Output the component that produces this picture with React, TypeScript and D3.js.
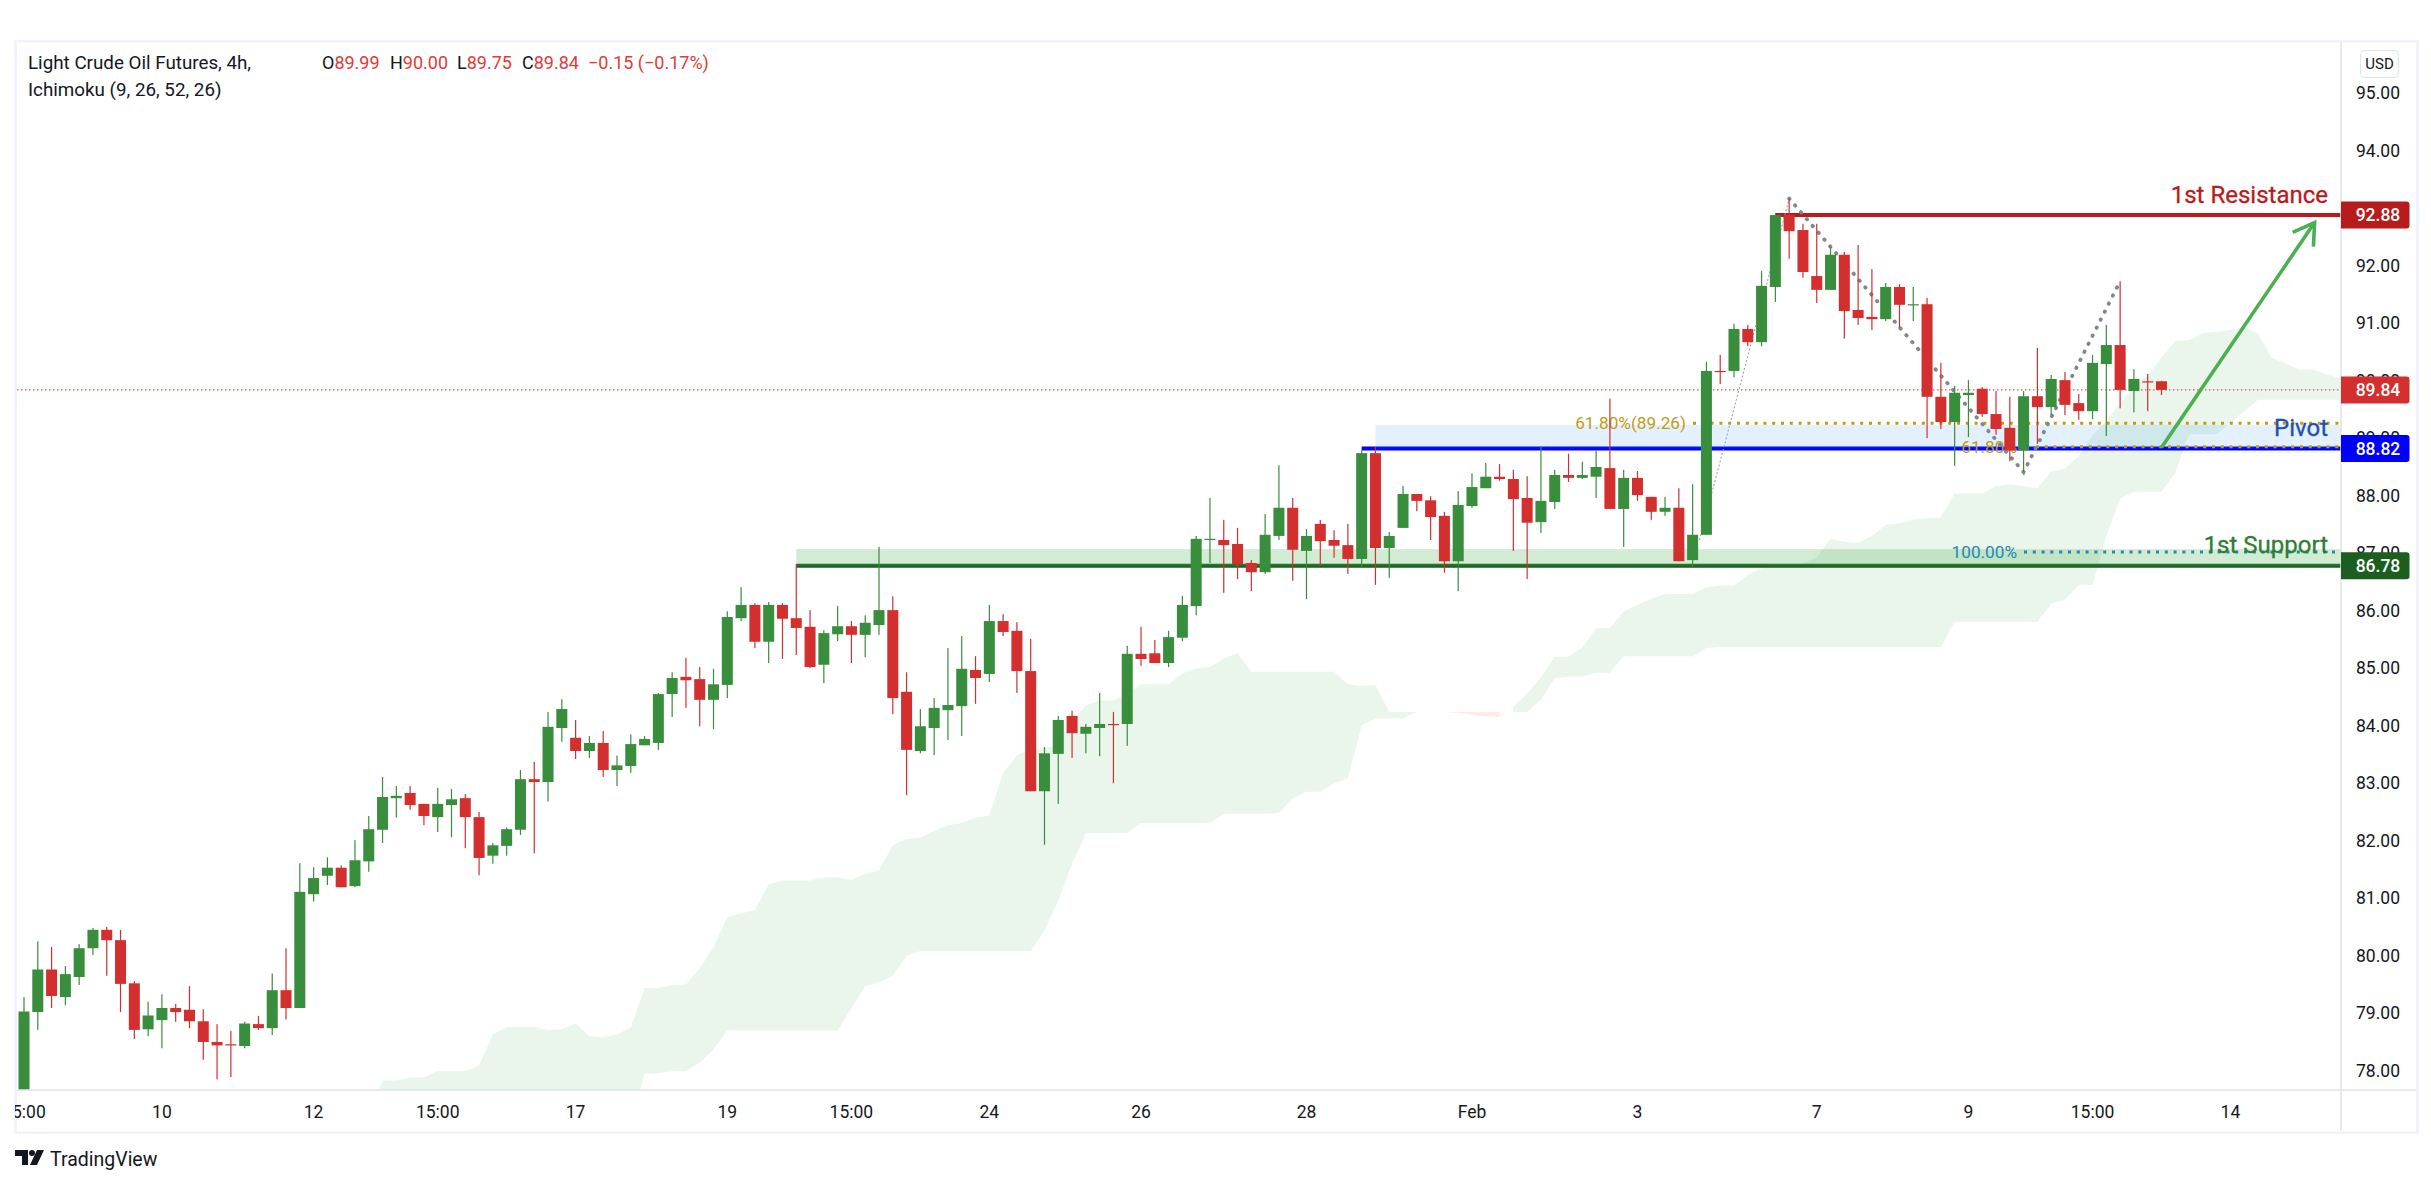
import * as React from 'react';
import * as d3 from 'd3';

const WIDTH = 2431;
const HEIGHT = 1185;
const FONT = 'Roboto, "Liberation Sans", sans-serif';

// candles, 4h bars
const opens = [
  77.0, 79.02, 79.76, 79.28, 79.63, 80.13, 80.45, 80.27, 79.52, 78.72, 78.88, 79.09, 79.06, 78.86, 78.5, 78.46, 78.43, 78.81, 78.74, 79.4,
  79.09, 81.07, 81.39, 81.53, 81.21, 81.64, 82.19, 82.74, 82.83, 82.64, 82.41, 82.62, 82.74, 82.41, 81.74, 81.91, 82.19, 83.07, 83.02, 83.96,
  83.79, 83.56, 83.7, 83.23, 83.3, 83.66, 83.7, 84.55, 84.85, 84.81, 84.45, 84.71, 85.87, 86.1, 85.46, 86.1, 85.87, 85.72, 85.06, 85.59,
  85.73, 85.58, 85.75, 86.01, 84.59, 83.56, 83.96, 84.27, 84.34, 84.97, 84.9, 85.82, 85.65, 84.95, 82.86, 83.51, 84.17, 83.86, 83.96, 84.03,
  84.03, 85.25, 85.26, 85.09, 85.53, 86.08, 87.24, 87.23, 87.16, 86.83, 86.67, 87.3, 87.79, 87.04, 87.51, 87.23, 87.14, 86.9, 88.74, 87.09,
  87.44, 88.03, 87.92, 87.65, 86.86, 87.82, 88.13, 88.33, 88.29, 87.96, 87.54, 87.89, 88.36, 88.31, 88.33, 88.48, 87.77, 88.31, 87.98, 87.72,
  87.79, 86.88, 87.32, 90.17, 90.17, 90.9, 90.67, 91.63, 92.88, 92.62, 91.82, 91.58, 92.19, 91.23, 91.11, 91.07, 91.63, 91.32, 91.33, 89.72,
  89.28, 89.75, 89.86, 89.42, 89.18, 88.79, 89.73, 89.54, 90.01, 89.61, 89.47, 90.29, 90.62, 89.82, 89.99, 89.99,
];
const highs = [
  79.28, 80.25, 80.15, 79.82, 80.2, 80.48, 80.5, 80.45, 79.56, 79.2, 79.33, 79.16, 79.47, 79.07, 78.81, 78.69, 78.85, 78.95, 79.69, 80.13,
  81.61, 81.54, 81.71, 81.57, 82.01, 82.43, 83.11, 82.95, 82.95, 82.64, 82.92, 82.9, 82.81, 82.5, 81.96, 82.23, 83.23, 83.37, 84.24, 84.46,
  84.1, 83.82, 83.91, 83.48, 83.85, 83.82, 84.57, 84.93, 85.18, 85.02, 84.99, 85.99, 86.41, 86.13, 86.15, 86.13, 86.81, 86.01, 85.66, 86.08,
  85.82, 85.92, 87.11, 86.25, 84.93, 84.29, 84.48, 85.35, 85.56, 85.21, 86.1, 85.94, 85.8, 85.51, 83.63, 84.17, 84.26, 84.03, 84.57, 84.24,
  85.39, 85.72, 85.49, 85.65, 86.26, 87.3, 87.96, 87.58, 87.44, 86.88, 87.68, 88.53, 87.96, 87.42, 87.58, 87.4, 87.51, 88.79, 88.85, 87.37,
  88.17, 88.03, 87.99, 87.72, 88.08, 88.39, 88.57, 88.55, 88.45, 88.34, 88.86, 88.45, 88.73, 88.59, 88.79, 89.69, 88.45, 88.43, 87.98, 87.98,
  88.13, 88.2, 90.33, 90.45, 90.99, 90.97, 91.91, 92.91, 93.17, 92.73, 92.73, 92.33, 92.24, 92.36, 91.94, 91.7, 91.68, 91.63, 91.44, 90.31,
  89.91, 90.01, 89.89, 89.82, 89.72, 89.82, 90.57, 90.1, 90.15, 89.77, 90.45, 90.97, 91.73, 90.2, 90.12, 90.0,
];
const lows = [
  76.9, 78.71, 79.09, 79.14, 79.49, 80.01, 79.65, 79.02, 78.55, 78.6, 78.39, 78.85, 78.74, 78.19, 77.85, 77.89, 78.39, 78.71, 78.62, 78.89,
  79.09, 80.94, 81.23, 81.19, 81.19, 81.46, 81.96, 82.4, 82.54, 82.27, 82.15, 82.06, 81.87, 81.4, 81.6, 81.74, 82.1, 81.78, 82.68, 83.72,
  83.42, 83.44, 83.11, 82.95, 83.18, 83.66, 83.58, 84.15, 84.31, 83.99, 83.94, 84.48, 85.82, 85.35, 85.09, 85.16, 85.23, 85.0, 84.74, 85.47,
  85.09, 85.19, 85.58, 84.2, 82.79, 83.52, 83.49, 83.75, 83.82, 84.38, 84.76, 85.56, 84.57, 82.86, 81.93, 82.64, 83.44, 83.52, 83.47, 83.0,
  83.65, 85.04, 85.09, 85.02, 85.47, 85.92, 86.83, 86.31, 86.55, 86.34, 86.64, 87.23, 86.52, 86.2, 86.78, 86.92, 86.64, 86.76, 86.45, 86.57,
  87.44, 87.73, 87.23, 86.66, 86.34, 87.79, 88.13, 88.26, 87.04, 86.55, 87.35, 87.77, 88.24, 88.29, 87.96, 87.77, 87.11, 87.91, 87.58, 87.65,
  86.86, 86.76, 87.32, 89.94, 90.06, 90.6, 90.6, 91.37, 92.12, 91.79, 91.35, 91.58, 90.73, 90.97, 90.88, 91.04, 90.92, 91.04, 89.0, 89.16,
  88.52, 89.02, 89.37, 89.06, 88.6, 88.41, 88.9, 89.4, 89.4, 89.32, 89.33, 89.04, 89.52, 89.45, 89.47, 89.75,
];
const closes = [
  79.03, 79.76, 79.3, 79.68, 80.13, 80.45, 80.27, 79.51, 78.71, 78.96, 79.09, 79.02, 78.86, 78.5, 78.44, 78.44, 78.82, 78.74, 79.4, 79.09,
  81.11, 81.35, 81.53, 81.19, 81.66, 82.2, 82.76, 82.78, 82.62, 82.43, 82.64, 82.72, 82.41, 81.7, 81.92, 82.2, 83.07, 83.02, 83.98, 84.29,
  83.56, 83.7, 83.23, 83.31, 83.68, 83.77, 84.55, 84.83, 84.79, 84.45, 84.72, 85.89, 86.1, 85.46, 86.1, 85.86, 85.7, 85.02, 85.61, 85.73,
  85.58, 85.79, 86.01, 84.48, 83.58, 83.99, 84.31, 84.36, 84.99, 84.83, 85.82, 85.63, 84.95, 82.86, 83.52, 84.1, 83.87, 83.98, 84.03, 84.01,
  85.25, 85.16, 85.09, 85.54, 86.1, 87.25, 87.25, 87.14, 86.81, 86.67, 87.32, 87.79, 87.06, 87.3, 87.21, 87.13, 86.9, 88.74, 87.09, 87.3,
  88.03, 87.91, 87.63, 86.86, 87.84, 88.15, 88.33, 88.29, 87.94, 87.53, 87.91, 88.36, 88.31, 88.36, 88.5, 87.77, 88.31, 88.01, 87.72, 87.79,
  86.86, 87.32, 90.17, 90.15, 90.9, 90.67, 91.65, 92.88, 92.6, 91.89, 91.58, 92.19, 91.21, 91.09, 91.07, 91.63, 91.32, 91.33, 89.72, 89.28,
  89.79, 89.79, 89.42, 89.16, 88.79, 89.73, 89.54, 90.03, 89.58, 89.47, 90.31, 90.62, 89.84, 90.03, 89.98, 89.84,
];

// ichimoku cloud, both spans, first value sits on bar cloudStart
const cloudStart = 25;
const spanA = [
  77.15, 77.83, 77.83, 77.88, 77.88, 77.99, 77.99, 77.99, 78.09, 78.63, 78.76, 78.76, 78.76, 78.71, 78.72, 78.82, 78.6, 78.58, 78.63, 78.75,
  79.44, 79.44, 79.49, 79.5, 79.78, 80.15, 80.67, 80.74, 80.79, 81.24, 81.31, 81.31, 81.31, 81.36, 81.36, 81.32, 81.42, 81.49, 81.92, 82.03,
  82.05, 82.17, 82.27, 82.31, 82.4, 82.44, 83.18, 83.48, 83.6, 83.61, 83.66, 84.1, 84.35, 84.44, 84.44, 84.56, 84.72, 84.72, 84.72, 84.91,
  85.0, 85.02, 85.17, 85.26, 84.94, 84.94, 84.94, 84.94, 84.94, 84.94, 84.94, 84.72, 84.69, 84.71, 84.24, 84.24, 84.24, 84.24, 84.24, 84.22,
  84.19, 84.16, 84.15, 84.33, 84.56, 84.84, 85.2, 85.2, 85.36, 85.7, 85.7, 85.99, 86.1, 86.21, 86.29, 86.29, 86.29, 86.41, 86.44, 86.44,
  86.62, 86.74, 86.78, 86.79, 86.82, 86.93, 87.25, 87.2, 87.18, 87.3, 87.49, 87.52, 87.58, 87.61, 87.62, 88.04, 88.04, 88.04, 88.17, 88.2,
  88.17, 88.13, 88.42, 88.47, 88.7, 89.05, 89.3, 89.6, 89.9, 90.1, 90.4, 90.69, 90.71, 90.83, 90.85, 90.88, 90.93, 90.82, 90.4, 90.3,
  90.19, 90.19, 90.11, 90.04,
];
const spanB = [
  76.8, 76.8, 76.8, 76.8, 76.8, 76.8, 76.8, 76.8, 76.8, 76.8, 76.8, 76.8, 76.8, 76.8, 76.8, 76.8, 76.8, 76.8, 76.8, 77.0,
  77.95, 77.95, 77.99, 77.99, 78.14, 78.37, 78.7, 78.7, 78.7, 78.7, 78.7, 78.7, 78.7, 78.7, 78.7, 79.09, 79.47, 79.54, 79.65, 80.0,
  80.08, 80.08, 80.08, 80.08, 80.08, 80.08, 80.08, 80.08, 80.08, 80.44, 80.95, 81.6, 82.13, 82.13, 82.13, 82.13, 82.31, 82.31, 82.31, 82.31,
  82.31, 82.31, 82.47, 82.47, 82.47, 82.47, 82.48, 82.74, 82.85, 82.85, 83.0, 83.08, 84.01, 84.13, 84.13, 84.13, 84.24, 84.24, 84.24, 84.24,
  84.24, 84.24, 84.24, 84.24, 84.24, 84.45, 84.83, 84.85, 84.85, 84.92, 84.92, 85.21, 85.21, 85.21, 85.21, 85.21, 85.21, 85.35, 85.37, 85.37,
  85.37, 85.37, 85.37, 85.37, 85.37, 85.37, 85.37, 85.37, 85.37, 85.37, 85.37, 85.37, 85.37, 85.37, 85.37, 85.81, 85.81, 85.81, 85.81, 85.81,
  85.81, 85.81, 86.12, 86.19, 86.45, 86.45, 87.3, 87.95, 88.07, 88.07, 88.07, 88.4, 89.07, 89.07, 89.07, 89.27, 89.47, 89.67, 89.67, 89.67,
  89.67, 89.67, 89.67, 89.67,
];

// 93.00 sits fully behind the 92.88 label, so it is left out
const priceTicks = d3.range(78, 96).filter((p) => p !== 93);
const timeTicks = ['15:00', '10', '12', '15:00', '17', '19', '15:00', '24', '26', '28', 'Feb', '3', '7', '9', '15:00', '14'];
const timeTickBars = [0, 10, 21, 30, 40, 51, 60, 70, 81, 93, 105, 117, 130, 141, 150, 160];

// drawings: [bar, price]
const zigzag: [number, number][] = [[128, 93.17], [145, 88.41], [152, 91.73]];
const fibLeg: [number, number][] = [[121.5, 87.23], [128, 93.17]];
const arrowLeg: [number, number][] = [[155, 88.84], [166.1, 92.75]];
const lastPrice = 89.84;
const resistance = 92.88;
const pivot = 88.82;
const support = 86.78;
const pivotZoneTop = 89.23;
const supportZoneTop = 87.07;
const fib618 = 89.26;
const fib618Low = 88.85;
const fib100 = 87.02;

const UP = '#388e3c';
const DOWN = '#d32f2f';
const TEXT = '#131722';

const plot = { left: 17, right: 2341, top: 42, bottom: 1090 };

const x = d3.scaleLinear().domain([0, 155]).range([24, 2161.5]);
const y = d3.scaleLinear().domain([78, 95]).range([1070.7, 93.2]);

type CloudRow = { bar: number; a: number; b: number };
const cloud: CloudRow[] = spanA.map((a, i) => ({ bar: cloudStart + i, a, b: spanB[i] }));

const PriceLabel = ({ price, fill }: { price: number; fill: string }) => {
  const cy = y(price);
  const h = 27;
  const w = 68.5;
  const r = 3;
  const x0 = plot.right;
  const d = `M${x0},${cy - h / 2}h${w - r}q${r},0 ${r},${r}v${h - 2 * r}q0,${r} ${-r},${r}h${r - w}z`;
  return (
    <g>
      <path d={d} fill={fill} />
      <text x={x0 + 37} y={cy + 6.3} textAnchor="middle" fontSize={17.5} fontWeight={500} fill="#fff">
        {price.toFixed(2)}
      </text>
    </g>
  );
};

export default function App() {
  const lineGen = d3
    .line<[number, number]>()
    .x((d) => x(d[0]))
    .y((d) => y(d[1]));

  const cloudArea = d3
    .area<CloudRow>()
    .x((d) => x(d.bar))
    .y0((d) => y(d.b))
    .y1((d) => y(d.a));
  const greenCloud = cloudArea.defined((d) => d.a >= d.b)(cloud) as string;
  const redCloud = cloudArea.defined((d) => d.a <= d.b)(cloud) as string;

  // arrow head from the slope of the leg
  const [ax0, ay0] = [x(arrowLeg[0][0]), y(arrowLeg[0][1])];
  const [ax1, ay1] = [x(arrowLeg[1][0]), y(arrowLeg[1][1])];
  const ang = Math.atan2(ay1 - ay0, ax1 - ax0);
  const headLen = 24;
  const head = [ang + Math.PI - 0.55, ang + Math.PI + 0.55].map(
    (t) => [ax1 + headLen * Math.cos(t), ay1 + headLen * Math.sin(t)] as [number, number],
  );

  return (
    <svg
      width={WIDTH}
      height={HEIGHT}
      viewBox={`0 0 ${WIDTH} ${HEIGHT}`}
      style={{ position: 'fixed', left: 0, top: 0, display: 'block', background: '#fff' }}
      fontFamily={FONT}
    >
      <defs>
        <clipPath id="plot">
          <rect x={plot.left} y={plot.top} width={plot.right - plot.left} height={plot.bottom - plot.top} />
        </clipPath>
        <clipPath id="timeAxis">
          <rect x={15} y={plot.bottom} width={plot.right - 15} height={42} />
        </clipPath>
      </defs>

      <g clipPath="url(#plot)">
        <path d={greenCloud} fill="rgba(67,160,71,0.11)" />
        <path d={redCloud} fill="rgba(244,67,54,0.11)" />

        {/* last price */}
        <line x1={plot.left} x2={plot.right} y1={y(lastPrice)} y2={y(lastPrice)} stroke={DOWN} strokeWidth={1} strokeDasharray="1.5 2.5" />

        {/* levels, the zones sit on the upper half of their lines */}
        <line x1={x(56)} x2={plot.right} y1={y(support)} y2={y(support)} stroke="#1b5e20" strokeWidth={4} />
        <rect x={x(56)} width={plot.right - x(56)} y={y(supportZoneTop)} height={y(support) - y(supportZoneTop)} fill="rgba(76,175,80,0.25)" />
        <line x1={x(97)} x2={plot.right} y1={y(pivot)} y2={y(pivot)} stroke="#0000ff" strokeWidth={4} />
        <rect x={x(98)} width={plot.right - x(98)} y={y(pivotZoneTop)} height={y(pivot) - y(pivotZoneTop)} fill="rgba(33,150,243,0.13)" />
        <line x1={x(127)} x2={plot.right} y1={y(resistance)} y2={y(resistance)} stroke="#b71c1c" strokeWidth={4} />

        {/* fibs */}
        <line x1={1693} x2={plot.right} y1={y(fib618)} y2={y(fib618)} stroke="#c49b0f" strokeWidth={3} strokeDasharray="3 5.8" />
        <line x1={2036} x2={plot.right} y1={y(fib618Low)} y2={y(fib618Low)} stroke="#c49b0f" strokeWidth={3} strokeDasharray="3 5.8" />
        <line x1={2024} x2={plot.right} y1={y(fib100)} y2={y(fib100)} stroke="#1f88b5" strokeWidth={3} strokeDasharray="3 5.8" />
        <text x={1686} y={y(fib618) + 6} textAnchor="end" fontSize={17.2} fill="#c49b0f">61.80%(89.26)</text>
        <text x={2017} y={y(fib618Low) + 6} textAnchor="end" fontSize={17.2} fill="#c49b0f">61.80%</text>
        <text x={2017} y={y(fib100) + 6} textAnchor="end" fontSize={17.2} fill="#1f88b5">100.00%</text>

        {/* swing lines */}
        <path d={lineGen(fibLeg) as string} fill="none" stroke="#9598a1" strokeWidth={1} strokeDasharray="2 2" />
        <path d={lineGen(zigzag) as string} fill="none" stroke="#83868f" strokeWidth={3.8} strokeLinecap="round" strokeDasharray="0.5 8.5" />

        {/* candles */}
        {closes.map((c, i) => {
          const o = opens[i];
          const color = c >= o ? UP : DOWN;
          const top = y(Math.max(o, c));
          const bottom = y(Math.min(o, c));
          return (
            <g key={i} fill={color}>
              <rect x={x(i) - 0.6} width={1.2} y={y(highs[i])} height={y(lows[i]) - y(highs[i])} />
              <rect x={x(i) - 5.5} width={11} y={top} height={Math.max(bottom - top, 1.2)} />
            </g>
          );
        })}

        {/* arrow */}
        <g stroke="#4caf50" strokeWidth={3.6} fill="none">
          <path d={lineGen(arrowLeg) as string} />
          <path d={`M${head[0]}L${ax1},${ay1}L${head[1]}`} />
        </g>

        <text x={2328} y={203} textAnchor="end" fontSize={24} fill="#b71c1c" stroke="#b71c1c" strokeWidth={0.3}>1st Resistance</text>
        <text x={2328} y={436} textAnchor="end" fontSize={24} fill="#234fae" stroke="#234fae" strokeWidth={0.3}>Pivot</text>
        <text x={2328} y={553} textAnchor="end" fontSize={24} fill="#2e7d32" stroke="#2e7d32" strokeWidth={0.3}>1st Support</text>
      </g>

      {/* frame */}
      <g fill="#f0f3fa">
        <rect x={14} y={40} width={2405} height={2.5} />
        <rect x={14} y={40} width={3} height={1094} />
        <rect x={2416} y={40} width={3} height={1094} />
        <rect x={14} y={1131.5} width={2405} height={2.5} />
      </g>
      <line x1={17} x2={2416} y1={plot.bottom} y2={plot.bottom} stroke="#e0e3eb" strokeWidth={1.5} />
      <line x1={plot.right} x2={plot.right} y1={42} y2={1131} stroke="#e0e3eb" strokeWidth={1.5} />

      {/* price axis */}
      {priceTicks.map((p) => (
        <text key={p} x={2378} y={y(p) + 6.2} textAnchor="middle" fontSize={17.5} fill={TEXT}>
          {p.toFixed(2)}
        </text>
      ))}
      <PriceLabel price={resistance} fill="#b71c1c" />
      <PriceLabel price={lastPrice} fill={DOWN} />
      <PriceLabel price={pivot} fill="#0000ff" />
      <PriceLabel price={support} fill="#1b5e20" />

      <rect x={2360.5} y={50.5} width={38} height={27} rx={4} fill="#fff" stroke="#e0e3eb" />
      <text x={2379.5} y={69} textAnchor="middle" fontSize={15} fill={TEXT}>USD</text>

      {/* time axis */}
      <g clipPath="url(#timeAxis)">
        {timeTicks.map((t, i) => (
          <text key={i} x={x(timeTickBars[i])} y={1118} textAnchor="middle" fontSize={17.5} fill={TEXT}>
            {t}
          </text>
        ))}
      </g>

      {/* legend */}
      <text x={28} y={69} fontSize={18.8} fill={TEXT}>Light Crude Oil Futures, 4h,</text>
      <text x={28} y={96} fontSize={18.8} fill={TEXT}>Ichimoku (9, 26, 52, 26)</text>
      <g fontSize={18} fill="#e53935">
        <text x={322} y={69}><tspan fill={TEXT}>O</tspan>89.99</text>
        <text x={390} y={69}><tspan fill={TEXT}>H</tspan>90.00</text>
        <text x={457} y={69}><tspan fill={TEXT}>L</tspan>89.75</text>
        <text x={522} y={69}><tspan fill={TEXT}>C</tspan>89.84</text>
        <text x={588} y={69}>−0.15 (−0.17%)</text>
      </g>

      {/* logo */}
      <g fill={TEXT}>
        <path d="M15,1150h13v15h-6v-9h-7z" />
        <circle cx={32} cy={1153} r={3} />
        <path d="M37,1150h7l-7,15h-7z" />
        <text x={50} y={1165.5} fontSize={19.5}>TradingView</text>
      </g>
    </svg>
  );
}
